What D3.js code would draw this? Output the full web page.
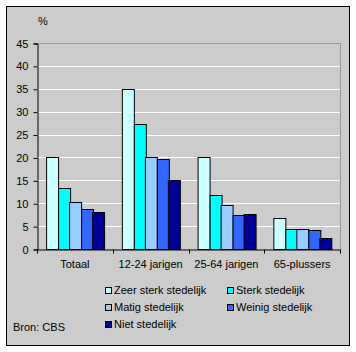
<!DOCTYPE html>
<html>
<head>
<meta charset="utf-8">
<script src="https://cdn.jsdelivr.net/npm/d3@7"></script>
<style>
  body { margin: 0; background: #fff; }
  svg text { font-family: "Liberation Sans", Arial, sans-serif; font-size: 11px; fill: #000; }
</style>
</head>
<body>
<div id="chart"></div>
<script>
// categories and series
var categories = ["Totaal", "12-24 jarigen", "25-64 jarigen", "65-plussers"];
var seriesNames = ["Zeer sterk stedelijk", "Sterk stedelijk", "Matig stedelijk", "Weinig stedelijk", "Niet stedelijk"];
var seriesColors = ["#ccffff", "#00ffff", "#99ccff", "#3366ff", "#000099"];
var zeerSterk = [20.2, 35.0, 20.2, 6.7];
var sterk = [13.3, 27.2, 11.8, 4.4];
var matig = [10.2, 20.2, 9.6, 4.4];
var weinig = [8.7, 19.6, 7.4, 4.2];
var niet = [8.1, 15.0, 7.6, 2.4];
var yTicks = [0, 5, 10, 15, 20, 25, 30, 35, 40, 45];

var series = [zeerSterk, sterk, matig, weinig, niet];

var W = 356, H = 352;
var plot = { left: 37, right: 340, top: 43, bottom: 249 };

var svg = d3.select("#chart").append("svg")
    .attr("width", W)
    .attr("height", H);

// outer frame
svg.append("rect")
    .attr("x", 6.5).attr("y", 6.5)
    .attr("width", 343).attr("height", 339)
    .attr("fill", "#cccccc")
    .attr("stroke", "#000")
    .attr("stroke-width", 1);

var x0 = d3.scaleBand()
    .domain(categories)
    .range([plot.left, plot.right])
    .paddingInner(0.24)
    .paddingOuter(0.12);

var x1 = d3.scaleBand()
    .domain(d3.range(series.length))
    .range([0, x0.bandwidth()]);

var y = d3.scaleLinear()
    .domain([0, 45])
    .range([plot.bottom, plot.top]);

// gridlines
svg.append("g").selectAll("line")
    .data(yTicks.filter(function(d) { return d > 0 && d < 45; }))
    .enter().append("line")
    .attr("x1", plot.left).attr("x2", plot.right)
    .attr("y1", function(d) { return Math.round(y(d)) + 0.5; })
    .attr("y2", function(d) { return Math.round(y(d)) + 0.5; })
    .attr("stroke", "#fff");

// plot area border top / right
svg.append("path")
    .attr("d", "M" + plot.left + "," + (Math.round(y(45)) + 0.5) + "H" + (plot.right + 0.5) + "V" + plot.bottom)
    .attr("fill", "none")
    .attr("stroke", "#999999");

// bars
var groups = svg.append("g").selectAll("g")
    .data(categories)
    .enter().append("g")
    .attr("transform", function(d) { return "translate(" + x0(d) + ",0)"; });

groups.selectAll("rect")
    .data(function(d, i) { return series.map(function(s, j) { return { s: j, v: s[i] }; }); })
    .enter().append("rect")
    .attr("x", function(d) { return Math.round(x1(d.s)) + 0.5; })
    .attr("y", function(d) { return Math.round(y(d.v)) + 0.5; })
    .attr("width", function(d) { return Math.round(x1.bandwidth()); })
    .attr("height", function(d) { return Math.round(y(0)) - Math.round(y(d.v)); })
    .attr("fill", function(d) { return seriesColors[d.s]; })
    .attr("stroke", "#000")
    .attr("stroke-width", 1);

// y axis
var yAxis = d3.axisLeft(y).tickValues(yTicks).tickSize(4).tickPadding(5);
var gy = svg.append("g")
    .attr("transform", "translate(" + (plot.left + 0.5) + ",0.5)")
    .call(yAxis);
gy.select(".domain").attr("stroke", "#000");
gy.selectAll("text").style("font-size", "11px").attr("font-family", null);

// x axis
var xAxis = d3.axisBottom(x0).tickSize(0).tickPadding(11);
var gx = svg.append("g")
    .attr("transform", "translate(0," + (plot.bottom + 0.5) + ")")
    .call(xAxis);
gx.select(".domain").attr("stroke", "#000");
gx.selectAll("text").style("font-size", "11px").attr("font-family", null);

// category separator ticks
var step = x0.step();
var boundaries = d3.range(categories.length + 1).map(function(i) {
    return x0(categories[0]) - x0.paddingOuter() * step + i * step;
});
gx.selectAll(".sep")
    .data(boundaries)
    .enter().append("line")
    .attr("class", "sep")
    .attr("x1", function(d) { return Math.round(d) + 0.5; })
    .attr("x2", function(d) { return Math.round(d) + 0.5; })
    .attr("y1", 0).attr("y2", 4)
    .attr("stroke", "#000");

// unit label
svg.append("text")
    .attr("x", 38).attr("y", 25)
    .text("%");

// legend
var legendPos = [
    { x: 105, y: 287 }, { x: 227, y: 287 },
    { x: 105, y: 304 }, { x: 227, y: 304 },
    { x: 105, y: 321 }
];
var legend = svg.append("g").selectAll("g")
    .data(seriesNames)
    .enter().append("g")
    .attr("transform", function(d, i) { return "translate(" + legendPos[i].x + "," + legendPos[i].y + ")"; });

legend.append("rect")
    .attr("x", 0.5).attr("y", 0.5)
    .attr("width", 6).attr("height", 6)
    .attr("fill", function(d, i) { return seriesColors[i]; })
    .attr("stroke", "#000");

legend.append("text")
    .attr("x", 9).attr("y", 7)
    .text(function(d) { return d; });

// source
svg.append("text")
    .attr("x", 13).attr("y", 331)
    .text("Bron: CBS");
</script>
</body>
</html>
